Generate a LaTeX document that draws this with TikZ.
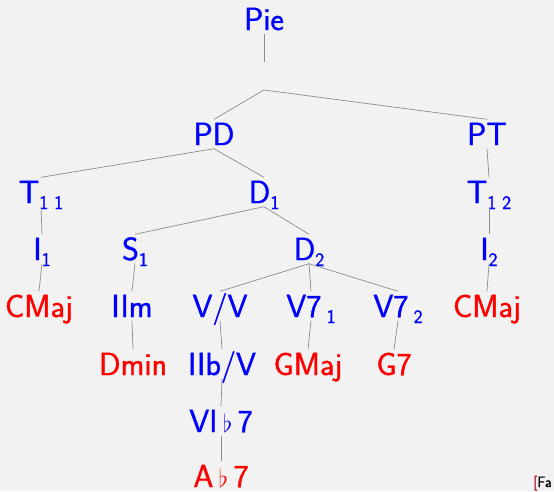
\documentclass[tikz,border=0pt]{standalone}
\usepackage{amssymb}
\usepackage{fontspec}
\setsansfont{Latin Modern Sans}[FakeBold=1.2]
\definecolor{bgc}{HTML}{F2F2F2}
\definecolor{linec}{HTML}{8C8C8C}
\definecolor{nblue}{HTML}{0000FF}
\definecolor{nred}{HTML}{FF0000}
\definecolor{citered}{HTML}{B01020}
\newcommand\sbx[1]{\raisebox{-6pt}{\fontsize{19}{22}\selectfont #1}}
\begin{document}
\begin{tikzpicture}[x=1pt,y=-1pt,
  lbl/.style={anchor=base,inner xsep=0pt,inner ysep=3.5pt,text height=22pt,text depth=0pt,
    font=\sffamily\fontsize{32}{36}\selectfont},
  nt/.style={lbl,text=nblue},
  tm/.style={lbl,text=nred},
  edge/.style={draw=linec,line width=0.7pt}]
\fill[bgc] (0,0) rectangle (554,491);
\useasboundingbox (0,0) rectangle (554,491);
% nodes
\node[nt] (pie) at (264,30) {Pie};
\coordinate (piestem) at (264,62);
\coordinate (pieapex) at (264,90);
\node[nt] (pd) at (214,145) {PD};
\node[nt] (pt) at (487,145) {PT};
\node[nt] (t11) at (41,203) {T\sbx{1 1}};
\node[nt] (d1) at (264,203) {D\sbx{1}};
\node[nt] (t12) at (489,203) {T\sbx{1 2}};
\node[nt] (i1) at (42,260) {I\sbx{1}};
\node[nt] (s1) at (135,260) {S\sbx{1}};
\node[nt] (d2) at (309,260) {D\sbx{2}};
\node[nt] (i2) at (489,260) {I\sbx{2}};
\node[tm] (cmaj1) at (39,317) {CMaj};
\node[nt] (iim) at (132,317) {IIm};
\node[nt] (vv) at (220,317) {V/V};
\node[nt] (v71) at (311,317) {V7\,\sbx{1}};
\node[nt] (v72) at (398,317) {V7\,\sbx{2}};
\node[tm] (cmaj2) at (487,317) {CMaj};
\node[tm] (dmin) at (133,375) {Dmin};
\node[nt] (iibv) at (222,375) {IIb/V};
\node[tm] (gmaj) at (308,375) {GMaj};
\node[tm] (g7) at (394,375) {G7};
\node[nt] (vib7) at (221,432) {VI\,$\flat$\,7};
\node[tm] (ab7) at (221,487) {A\,$\flat$\,7};
\node[anchor=base west,inner sep=0pt,font=\sffamily\fontsize{15}{18}\selectfont] (cite) at (533,487) {\textcolor{citered}{[}Fa};
% edges
\draw[edge] (pie.south) -- (piestem);
\draw[edge] (pd.north) -- (pieapex) -- (pt.north);
\draw[edge] (t11.north) -- (pd.south) -- (d1.north);
\draw[edge] (pt.south) -- (t12.north);
\draw[edge] (t11.south) -- (i1.north);
\draw[edge] (s1.north) -- (d1.south) -- (d2.north);
\draw[edge] (t12.south) -- (i2.north);
\draw[edge] (i1.south) -- (cmaj1.north);
\draw[edge] (s1.south) -- (iim.north);
\draw[edge] (vv.north) -- (d2.south) -- (v72.north);
\draw[edge] (d2.south) -- (v71.north);
\draw[edge] (i2.south) -- (cmaj2.north);
\draw[edge] (iim.south) -- (dmin.north);
\draw[edge] (vv.south) -- (iibv.north);
\draw[edge] (v71.south) -- (gmaj.north);
\draw[edge] (v72.south) -- (g7.north);
\draw[edge] (iibv.south) -- (vib7.north);
\draw[edge] (vib7.south) -- (ab7.north);
\end{tikzpicture}
\end{document}
